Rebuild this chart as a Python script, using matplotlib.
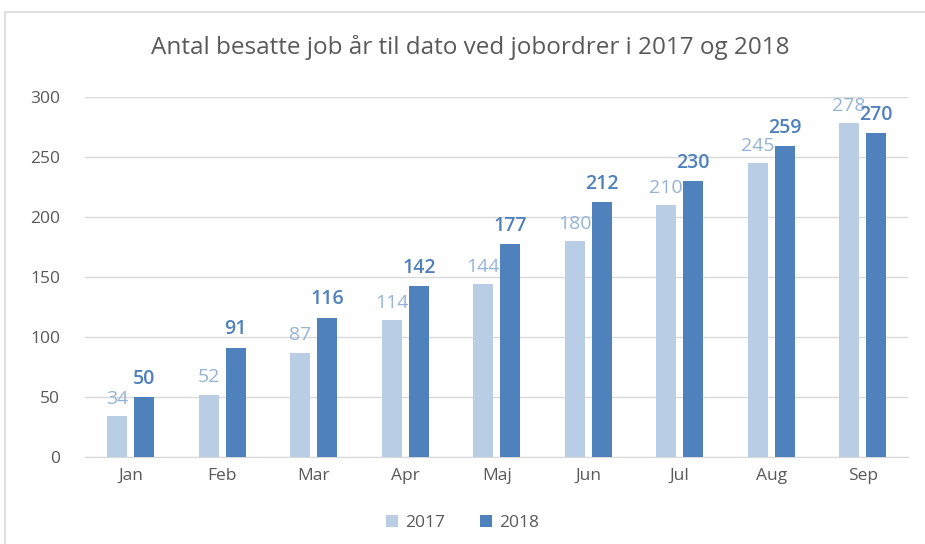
import matplotlib.pyplot as plt
import numpy as np
from matplotlib.patches import Rectangle

# Data
months = ['Jan', 'Feb', 'Mar', 'Apr', 'Maj', 'Jun', 'Jul', 'Aug', 'Sep']
jobs_2017 = [34, 52, 87, 114, 144, 180, 210, 245, 278]
jobs_2018 = [50, 91, 116, 142, 177, 212, 230, 259, 270]
yticks = [0, 50, 100, 150, 200, 250, 300]

plt.rcParams['font.family'] = ['Open Sans', 'DejaVu Sans']

c17 = '#B9CDE5'
c18 = '#4F81BD'
lab17 = '#95B3D7'
gray = '#595959'

fig = plt.figure(figsize=(9.25, 5.44), dpi=100)
ax = fig.add_axes([0.092, 0.160, 0.890, 0.662])

# Chart border
fig.patches.append(Rectangle((5 / 925, -0.1), 1.1, 1 - 12 / 544 + 0.1,
                             transform=fig.transFigure, fill=False,
                             edgecolor='#D9D9D9', linewidth=1.2))

x = np.arange(len(months))
w = 0.22
off = 0.148
b17 = ax.bar(x - off, jobs_2017, w, color=c17, label='2017', zorder=3)
b18 = ax.bar(x + off, jobs_2018, w, color=c18, label='2018', zorder=3)

for rect, v in zip(b17, jobs_2017):
    ax.annotate(str(v), (rect.get_x() + rect.get_width() / 2, v),
                xytext=(0, 6), textcoords='offset points', ha='center',
                va='bottom', fontsize=14, color=lab17, zorder=4)
for rect, v in zip(b18, jobs_2018):
    ax.annotate(str(v), (rect.get_x() + rect.get_width() / 2, v),
                xytext=(0, 6), textcoords='offset points', ha='center',
                va='bottom', fontsize=14, color=c18, fontweight='semibold', zorder=4)

ax.set_xlim(-0.5, 8.5)
ax.set_ylim(0, 300)
ax.set_yticks(yticks)
ax.set_xticks(x)
ax.set_xticklabels(months)
ax.grid(axis='y', color='#D9D9D9', linewidth=1, zorder=0)
for s in ['top', 'right', 'left']:
    ax.spines[s].set_visible(False)
ax.spines['bottom'].set_color('#D9D9D9')
ax.tick_params(length=0, labelsize=12.5, colors=gray, pad=8)
ax.tick_params(axis='y', pad=18)

fig.text(0.508, 0.913, 'Antal besatte job år til dato ved jobordrer i 2017 og 2018',
         ha='center', va='center', fontsize=17.5, color=gray)

fig.legend(handles=[b17, b18], loc='center', bbox_to_anchor=(0.50, 0.038),
           ncol=2, frameon=False, fontsize=12.5, labelcolor=gray,
           handlelength=0.7, handleheight=0.7, columnspacing=2, handletextpad=0.4)

fig.savefig('out.png', dpi=100)
